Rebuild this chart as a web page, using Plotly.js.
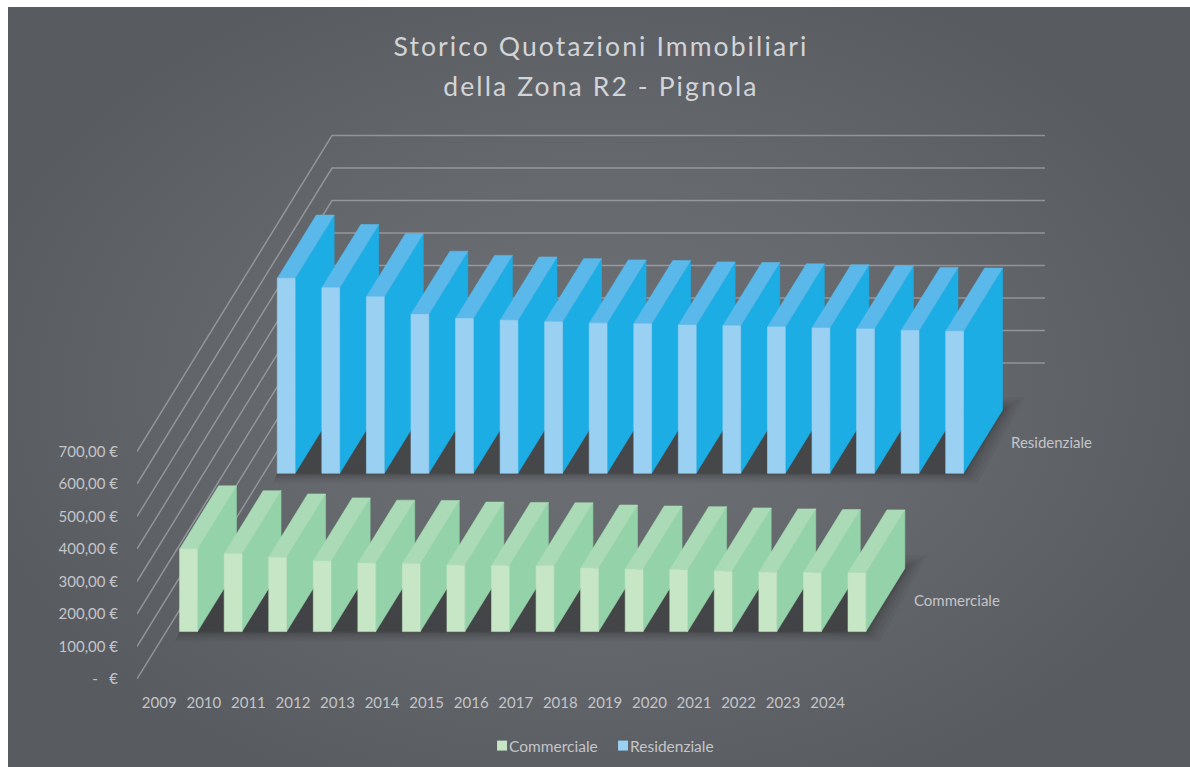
<!DOCTYPE html>
<html>
<head>
<meta charset="utf-8">
<script src="https://cdn.plot.ly/plotly-3.0.1.min.js"></script>
<style>
html,body{margin:0;padding:0;background:#fff;width:1190px;height:767px;overflow:hidden}
#bg{position:absolute;left:8px;top:7px;width:1182px;height:760px;background:radial-gradient(ellipse 640px 440px at 50% 50%,#6d7075 0%,#65686d 50%,#585b60 100%)}
#chart{position:absolute;left:0;top:0;width:1190px;height:767px}
.gtitle{letter-spacing:2.1px}
</style>
</head>
<body>
<div id="bg"></div>
<div id="chart"></div>
<script>
const years = ['2009','2010','2011','2012','2013','2014','2015','2016','2017','2018','2019','2020','2021','2022','2023','2024'];
const commerciale = [254,239,229,217,210,209,204,203,202,195,192,190,186,183,181,180];
const residenziale = [600,571,543,489,476,471,466,462,460,456,454,450,447,444,439,437];
const priceTicks = [0,100,200,300,400,500,600,700];
const priceLabels = ['-\u00A0\u00A0\u00A0\u20AC','100,00\u00A0\u20AC','200,00\u00A0\u20AC','300,00\u00A0\u20AC','400,00\u00A0\u20AC','500,00\u00A0\u20AC','600,00\u00A0\u20AC','700,00\u00A0\u20AC'];

// oblique projection of the depth axis, in axis units
const catPx = 44.56, eurPx = 0.325;
const depthX = 195 / catPx, depthY = 316 / eurPx;
const barFrom = 0.3, barTo = 0.7;
const px = (cat, depth) => cat + depthX * depth;
const py = (val, depth) => val + depthY * depth;

function poly(pts){ return pts.concat([pts[0], [null,null]]); }
function xy(list){ return {x:list.map(p=>p[0]), y:list.map(p=>p[1])}; }

function faces(values, d0, d1){
  let front=[], side=[], top=[];
  values.forEach((v,i)=>{
    const a=i+barFrom, b=i+barTo;
    front=front.concat(poly([[px(a,d0),py(0,d0)],[px(b,d0),py(0,d0)],[px(b,d0),py(v,d0)],[px(a,d0),py(v,d0)]]));
    side=side.concat(poly([[px(b,d0),py(0,d0)],[px(b,d1),py(0,d1)],[px(b,d1),py(v,d1)],[px(b,d0),py(v,d0)]]));
    top=top.concat(poly([[px(a,d0),py(v,d0)],[px(b,d0),py(v,d0)],[px(b,d1),py(v,d1)],[px(a,d1),py(v,d1)]]));
  });
  return {front,side,top};
}
// soft floor shadow: stacked translucent footprints, denser near the bars
const shadowSteps = [0,0,1,1,2,3,4,6,8,11,14];
function shadowLayers(n,d0,d1){
  return shadowSteps.map(s=>{
    const a=barFrom-0.35*s/catPx, b=n-1+barTo+s/catPx, low=-0.7*s/eurPx, hi=d1+0.04*s/14;
    return fillTrace(poly([[px(a,d0),py(low,d0)],[px(b,d0),py(low,d0)],[px(b,hi),py(0,hi)],[px(a,hi),py(0,hi)]]),'rgba(45,38,40,0.055)',0);
  });
}
function fillTrace(points,color,lw){
  return Object.assign(xy(points),{type:'scatter',mode:'lines',fill:'toself',fillcolor:color,
    line:{width:lw===undefined?0.6:lw,color:color},hoverinfo:'skip',showlegend:false});
}

// wall gridlines
let grid=[];
priceTicks.forEach(v=>{
  grid.push([px(0,0),py(v,0)],[px(0,1),py(v,1)],[px(years.length,1),py(v,1)],[null,null]);
});

const dC=[0.15,0.35], dR=[0.651,0.851];
const fC=faces(commerciale,dC[0],dC[1]), fR=faces(residenziale,dR[0],dR[1]);

const traces=[
  Object.assign(xy(grid),{type:'scatter',mode:'lines',line:{color:'rgba(196,197,201,0.5)',width:1.5},hoverinfo:'skip',showlegend:false}),
  ...shadowLayers(years.length,dR[0],dR[1]),
  fillTrace(fR.side,'#1cade4'),
  fillTrace(fR.top,'#5ab9ea'),
  fillTrace(fR.front,'#9ad1f3'),
  ...shadowLayers(years.length,dC[0],dC[1]),
  fillTrace(fC.side,'#94d3a9'),
  fillTrace(fC.top,'#aadbb6'),
  fillTrace(fC.front,'#c6e6c6'),
  {type:'scatter',mode:'markers',name:'Commerciale',x:[null],y:[null],marker:{symbol:'square',size:10,color:'#c6e6c6'},hoverinfo:'skip'},
  {type:'scatter',mode:'markers',name:'Residenziale',x:[null],y:[null],marker:{symbol:'square',size:10,color:'#9ad1f3'},hoverinfo:'skip'}
];

const txt='#c4c5c9', fam='Lato, "Open Sans", sans-serif';
const layout={
  width:1190,height:767,
  margin:{l:137,r:0,t:0,b:88,autoexpand:false},
  paper_bgcolor:'rgba(0,0,0,0)',plot_bgcolor:'rgba(0,0,0,0)',
  font:{family:fam,color:txt,size:15},
  title:{text:'Storico Quotazioni Immobiliari<br>della Zona R2 - Pignola',x:0.505,xanchor:'center',y:0.927,yanchor:'top',
    font:{family:fam,size:26.5,color:'#d3d4d7'}},
  xaxis:{range:[0,(1190-137)/catPx],showgrid:false,zeroline:false,showline:false,
    tickmode:'array',tickvals:years.map((y,i)=>i+0.5),ticktext:years,ticks:'outside',ticklen:10,tickcolor:'rgba(0,0,0,0)',
    tickfont:{family:fam,size:15,color:txt},fixedrange:true},
  yaxis:{range:[0,679/eurPx],showgrid:false,zeroline:false,showline:false,
    tickmode:'array',tickvals:priceTicks,ticktext:priceLabels,ticks:'outside',ticklen:15,tickcolor:'rgba(0,0,0,0)',
    tickfont:{family:fam,size:15,color:txt},fixedrange:true},
  showlegend:true,
  legend:{orientation:'h',x:0.4426,xanchor:'center',y:-0.0987,yanchor:'middle',bgcolor:'rgba(0,0,0,0)',
    entrywidth:76,entrywidthmode:'pixels',
    font:{family:fam,size:15.5,color:txt}},
  annotations:[
    {xref:'x',yref:'y',x:px(years.length,0.25),y:py(0,0.25),text:'Commerciale',showarrow:false,xanchor:'left',yanchor:'middle',xshift:13,font:{family:fam,size:15,color:txt}},
    {xref:'x',yref:'y',x:px(years.length,0.75),y:py(0,0.75),text:'Residenziale',showarrow:false,xanchor:'left',yanchor:'middle',xshift:13,font:{family:fam,size:15,color:txt}}
  ]
};
Plotly.newPlot('chart',traces,layout,{displayModeBar:false,staticPlot:true}).then(()=>{
  const lines=document.querySelectorAll('.gtitle .line');
  if(lines[1]) lines[1].setAttribute('dy','40');
  document.querySelectorAll('.legend .legendtext').forEach(t=>{
    t.setAttribute('x', String(parseFloat(t.getAttribute('x'))-13));
  });
});
</script>
</body>
</html>
